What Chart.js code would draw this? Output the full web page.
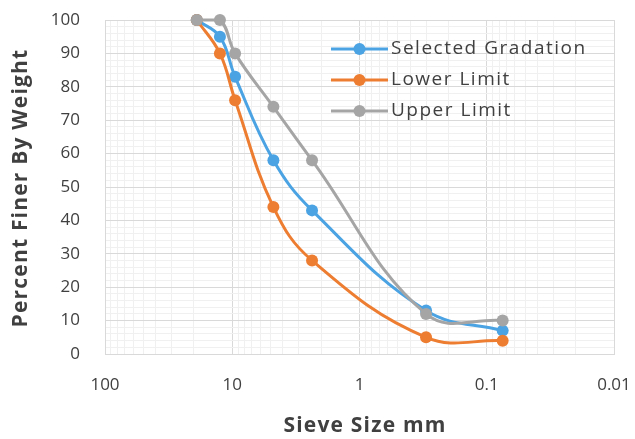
<!DOCTYPE html>
<html>
<head>
<meta charset="utf-8">
<script src="https://cdn.jsdelivr.net/npm/chart.js@4/dist/chart.umd.min.js"></script>
<style>
html,body{margin:0;padding:0;background:#fff;}
#wrap{width:635px;height:439px;position:relative;}
</style>
</head>
<body>
<div id="wrap"><canvas id="c" width="635" height="439"></canvas></div>
<script>
// ---- data ----
const sieveSizes = [19, 12.5, 9.5, 4.75, 2.36, 0.3, 0.075];
const selectedGradation = [100, 95, 83, 58, 43, 13, 7];
const lowerLimit = [100, 90, 76, 44, 28, 5, 4];
const upperLimit = [100, 100, 90, 74, 58, 12, 10];
const seriesNames = ['Selected Gradation', 'Lower Limit', 'Upper Limit'];
const xTickLabels = [100, 10, 1, 0.1, 0.01];
const yTickLabels = [0, 10, 20, 30, 40, 50, 60, 70, 80, 90, 100];
const xTitle = 'Sieve Size mm';
const yTitle = 'Percent Finer By Weight';

const colors = ['#4BA3E3', '#ED7D31', '#A5A5A5'];
const textColor = '#404040';
const fontFamily = '"Open Sans", sans-serif';

function pts(vals){ return sieveSizes.map((s,i)=>({x:s,y:vals[i]})); }

const seriesValues = [selectedGradation, lowerLimit, upperLimit];
const datasets = seriesValues.map((v,i)=>({
  label: seriesNames[i],
  data: pts(v),
  showLine: true,
  borderColor: colors[i],
  backgroundColor: colors[i],
  borderWidth: 3,
  pointRadius: 6,
  pointHoverRadius: 6,
  pointBorderWidth: 0,
  tension: 0.4,
  order: 2 - i,
  clip: false
}));

const xMin = Math.min(...xTickLabels), xMax = Math.max(...xTickLabels);

const legendPlugin = {
  id: 'insideLegend',
  afterDraw(chart){
    const ctx = chart.ctx, ca = chart.chartArea;
    ctx.save();
    ctx.font = '19px ' + fontFamily;
    ctx.letterSpacing = '1.5px';
    ctx.textBaseline = 'middle';
    chart.data.datasets.forEach((ds,i)=>{
      const y = ca.top + 29 + i*31;
      const x0 = ca.left + 226, x1 = ca.left + 283;
      ctx.strokeStyle = ds.borderColor;
      ctx.lineWidth = 3;
      ctx.beginPath(); ctx.moveTo(x0,y); ctx.lineTo(x1,y); ctx.stroke();
      ctx.fillStyle = ds.borderColor;
      ctx.beginPath(); ctx.arc((x0+x1)/2, y, 6, 0, Math.PI*2); ctx.fill();
      ctx.fillStyle = textColor;
      ctx.fillText(ds.label, x1 + 3, y);
    });
    ctx.restore();
  }
};

const titlePlugin = {
  id: 'axisTitles',
  afterDraw(chart){
    const ctx = chart.ctx;
    ctx.save();
    ctx.font = 'bold 21px ' + fontFamily;
    ctx.letterSpacing = '1.2px';
    ctx.fillStyle = textColor;
    ctx.textAlign = 'center';
    ctx.textBaseline = 'middle';
    ctx.fillText(xTitle, 365, 426);
    ctx.translate(21, 188);
    ctx.rotate(-Math.PI/2);
    ctx.fillText(yTitle, 0, 0);
    ctx.restore();
  }
};

new Chart(document.getElementById('c'), {
  type: 'scatter',
  data: { datasets },
  plugins: [legendPlugin, titlePlugin],
  options: {
    responsive: false,
    animation: false,
    events: [],
    layout: { padding: { top: 20, right: 21, left: 0, bottom: 0 } },
    plugins: { legend: { display: false }, tooltip: { enabled: false } },
    scales: {
      x: {
        type: 'logarithmic',
        reverse: true,
        min: xMin, max: xMax,
        afterBuildTicks(scale){
          const t = [];
          for (let e = Math.log10(xMin); e < Math.log10(xMax); e++){
            for (let m = 1; m < 10; m++) t.push({value: Math.round(m*Math.pow(10,e)*1e6)/1e6});
          }
          t.push({value: xMax});
          scale.ticks = t;
        },
        afterFit(scale){ scale.height = 439 - 354; scale.paddingLeft = 0; scale.paddingRight = 0; },
        grid: {
          drawTicks: false,
          color: ctx => (ctx.tick && xTickLabels.includes(ctx.tick.value)) ? '#D9D9D9' : '#F0F0F0',
          lineWidth: 1
        },
        border: { color: '#D9D9D9' },
        ticks: {
          autoSkip: false, maxRotation: 0, padding: 21,
          color: textColor, font: { family: fontFamily, size: 17 },
          callback: v => xTickLabels.includes(v) ? String(v) : ''
        }
      },
      y: {
        min: 0, max: 100,
        afterBuildTicks(scale){
          const t = []; for (let v = 0; v <= 100; v += 2) t.push({value: v}); scale.ticks = t;
        },
        afterFit(scale){ scale.width = 105; scale.paddingTop = 0; scale.paddingBottom = 0; },
        grid: {
          drawTicks: false,
          color: ctx => (ctx.tick && yTickLabels.includes(ctx.tick.value)) ? '#D9D9D9' : '#F0F0F0',
          lineWidth: 1
        },
        border: { color: '#D9D9D9' },
        ticks: {
          autoSkip: false, padding: 25,
          color: textColor, font: { family: fontFamily, size: 17 },
          callback: v => yTickLabels.includes(v) ? String(v) : ''
        }
      }
    }
  }
});
</script>
</body>
</html>
